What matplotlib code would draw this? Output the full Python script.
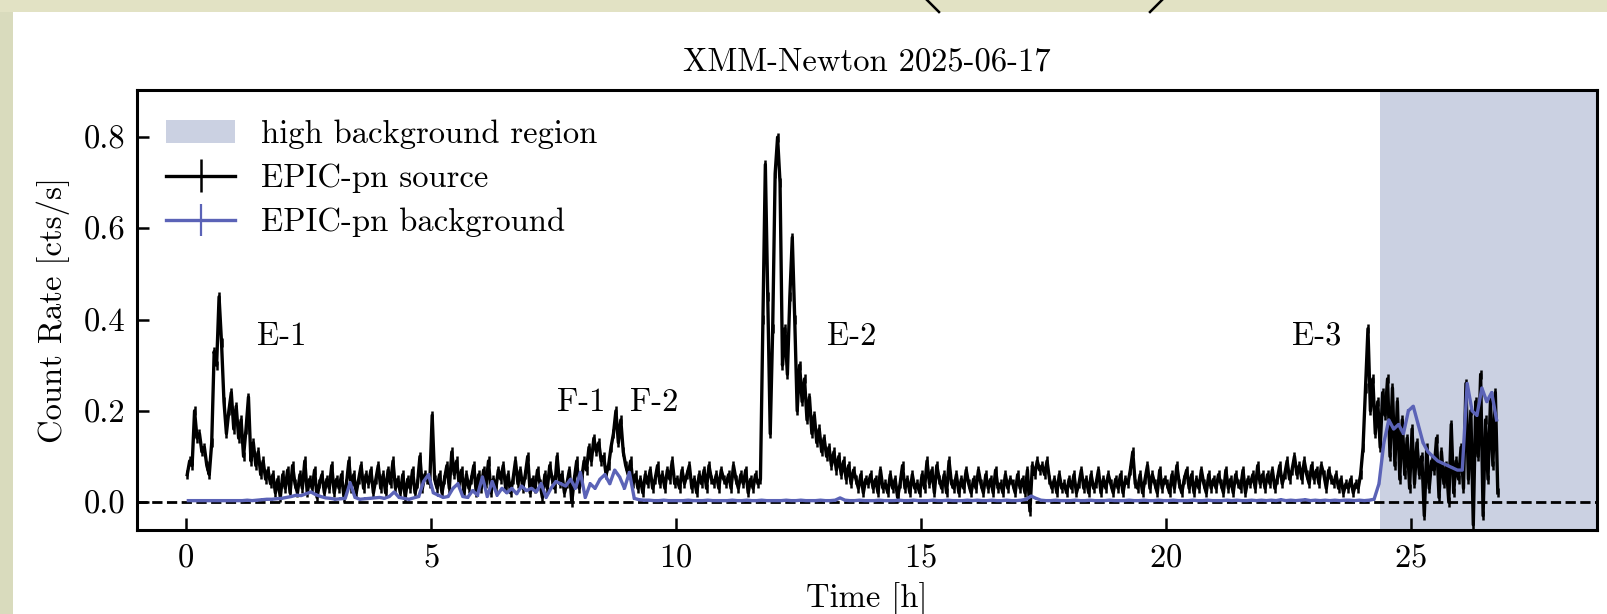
import numpy as np
import matplotlib
matplotlib.use("Agg")
import matplotlib.pyplot as plt
from matplotlib.lines import Line2D
from matplotlib.patches import Rectangle

plt.rcParams["font.family"] = "serif"
plt.rcParams["font.serif"] = ["cmr10"]
plt.rcParams["mathtext.fontset"] = "cm"
plt.rcParams["axes.unicode_minus"] = False
plt.rcParams["axes.formatter.use_mathtext"] = True

# ---- light curve data -------------------------------------------------------
BIN_SRC_H = 0.05   # source light-curve bin width [h]
BIN_BKG_H = 0.10   # background light-curve bin width [h]

# EPIC-pn source count rate [cts/s], one row per hour
src_rate = [
    0.06, 0.09, 0.08, 0.20, 0.14, 0.15, 0.11, 0.12, 0.08, 0.06, 0.13, 0.33, 0.30, 0.45, 0.35, 0.22, 0.15, 0.20, 0.24, 0.16,
    0.21, 0.14, 0.18, 0.10, 0.16, 0.23, 0.09, 0.13, 0.08, 0.11, 0.06, 0.09, 0.05, 0.07, 0.04, 0.06, 0.02, 0.05, 0.01, 0.06,
    0.03, 0.07, 0.02, 0.08, 0.04, 0.02, 0.06, 0.03, 0.09, 0.02, 0.05, 0.03, 0.07, 0.01, 0.04, 0.06, 0.02, 0.05, 0.03, 0.08,
    0.02, 0.05, 0.03, 0.06, 0.01, 0.04, 0.09, 0.03, 0.06, 0.02, 0.05, 0.08, 0.03, 0.06, 0.04, 0.07, 0.02, 0.05, 0.08, 0.03,
    0.06, 0.02, 0.07, 0.04, 0.09, 0.03, 0.05, 0.02, 0.06, 0.01, 0.05, 0.03, 0.07, 0.02, 0.04, 0.10, 0.03, 0.06, 0.05, 0.04,
    0.19, 0.05, 0.03, 0.06, 0.02, 0.05, 0.08, 0.03, 0.11, 0.06, 0.09, 0.04, 0.07, 0.02, 0.06, 0.03, 0.05, 0.08, 0.02, 0.06,
    0.03, 0.07, 0.04, 0.09, 0.02, 0.05, 0.03, 0.07, 0.05, 0.08, 0.03, 0.06, 0.02, 0.05, 0.09, 0.04, 0.07, 0.03, 0.06, 0.10,
    0.02, 0.05, 0.03, 0.07, 0.04, 0.01, 0.06, 0.03, 0.08, 0.05, 0.03, 0.10, 0.04, 0.06, 0.02, 0.04, 0.07, 0.00, 0.05, 0.09,
    0.03, 0.05, 0.09, 0.07, 0.12, 0.09, 0.14, 0.11, 0.13, 0.09, 0.10, 0.06, 0.08, 0.12, 0.15, 0.20, 0.13, 0.18, 0.11, 0.08,
    0.06, 0.09, 0.04, 0.06, 0.03, 0.05, 0.02, 0.06, 0.04, 0.07, 0.03, 0.05, 0.08, 0.04, 0.06, 0.03, 0.07, 0.05, 0.09, 0.04,
    0.05, 0.03, 0.07, 0.04, 0.06, 0.08, 0.03, 0.05, 0.02, 0.06, 0.04, 0.07, 0.03, 0.08, 0.05, 0.04, 0.06, 0.03, 0.07, 0.05,
    0.04, 0.06, 0.03, 0.08, 0.05, 0.03, 0.06, 0.04, 0.07, 0.02, 0.05, 0.03, 0.06, 0.04, 0.05, 0.40, 0.74, 0.45, 0.15, 0.38,
    0.72, 0.80, 0.70, 0.30, 0.38, 0.28, 0.45, 0.58, 0.40, 0.20, 0.30, 0.22, 0.27, 0.18, 0.23, 0.15, 0.19, 0.13, 0.16, 0.11,
    0.14, 0.10, 0.12, 0.08, 0.11, 0.07, 0.10, 0.06, 0.09, 0.05, 0.08, 0.04, 0.07, 0.05, 0.03, 0.06, 0.02, 0.05, 0.04, 0.06,
    0.03, 0.05, 0.02, 0.07, 0.03, 0.04, 0.02, 0.06, 0.03, 0.05, 0.01, 0.04, 0.08, 0.03, 0.05, 0.02, 0.06, 0.03, 0.04, 0.02,
    0.06, 0.03, 0.09, 0.04, 0.07, 0.02, 0.08, 0.05, 0.03, 0.06, 0.02, 0.09, 0.04, 0.03, 0.06, 0.02, 0.05, 0.03, 0.07, 0.04,
    0.02, 0.05, 0.03, 0.07, 0.04, 0.02, 0.06, 0.03, 0.05, 0.02, 0.07, 0.03, 0.04, 0.02, 0.06, 0.03, 0.05, 0.04, 0.02, 0.06,
    0.03, 0.05, 0.02, 0.07, -0.02, 0.08, 0.06, 0.09, 0.07, 0.08, 0.06, 0.09, 0.05, 0.03, 0.05, 0.02, 0.06, 0.03, 0.04, 0.02,
    0.05, 0.03, 0.06, 0.02, 0.04, 0.07, 0.03, 0.05, 0.02, 0.06, 0.03, 0.04, 0.07, 0.02, 0.05, 0.03, 0.06, 0.04, 0.02, 0.05,
    0.03, 0.06, 0.02, 0.05, 0.04, 0.07, 0.11, 0.04, 0.03, 0.06, 0.02, 0.05, 0.08, 0.03, 0.06, 0.04, 0.02, 0.07, 0.03, 0.05,
    0.04, 0.02, 0.06, 0.03, 0.08, 0.04, 0.02, 0.05, 0.07, 0.03, 0.06, 0.02, 0.05, 0.03, 0.07, 0.04, 0.02, 0.06, 0.03, 0.05,
    0.03, 0.06, 0.04, 0.02, 0.07, 0.03, 0.05, 0.02, 0.06, 0.04, 0.03, 0.07, 0.02, 0.05, 0.04, 0.06, 0.03, 0.08, 0.04, 0.06,
    0.03, 0.06, 0.04, 0.07, 0.03, 0.05, 0.08, 0.04, 0.06, 0.09, 0.05, 0.07, 0.10, 0.06, 0.08, 0.05, 0.09, 0.06, 0.04, 0.08,
    0.05, 0.07, 0.04, 0.08, 0.06, 0.03, 0.07, 0.05, 0.04, 0.06, 0.03, 0.05, 0.02, 0.04, 0.03, 0.05, 0.02, 0.04, 0.03, 0.06,
    0.12, 0.25, 0.38, 0.20, 0.27, 0.15, 0.22, 0.12, 0.24, 0.19, 0.27, 0.10, 0.25, 0.08, 0.22, 0.05, 0.18, 0.06, 0.14, 0.03,
    0.16, 0.04, 0.13, 0.06, 0.10, -0.03, 0.12, 0.03, 0.09, 0.07, 0.14, 0.01, 0.11, 0.04, 0.08, 0.00, 0.17, 0.02, 0.09, 0.05,
    0.12, 0.03, 0.26, 0.05, 0.20, -0.05, 0.22, 0.10, 0.28, -0.03, 0.18, 0.05, 0.22, 0.08, 0.24, 0.02,
]

# EPIC-pn background count rate [cts/s], one row per hour
bkg_rate = [
    0.003, 0.003, 0.003, 0.003, 0.003, 0.003, 0.003, 0.003, 0.003, 0.003,
    0.003, 0.003, 0.004, 0.003, 0.004, 0.005, 0.006, 0.006, 0.007, 0.008,
    0.010, 0.012, 0.015, 0.014, 0.018, 0.022, 0.016, 0.012, 0.009, 0.008,
    0.006, 0.007, 0.008, 0.042, 0.010, 0.006, 0.007, 0.008, 0.009, 0.010,
    0.008, 0.012, 0.022, 0.010, 0.008, 0.006, 0.009, 0.012, 0.045, 0.060,
    0.020, 0.015, 0.010, 0.012, 0.030, 0.040, 0.012, 0.010, 0.025, 0.015,
    0.055, 0.012, 0.045, 0.015, 0.030, 0.020, 0.030, 0.018, 0.035, 0.025,
    0.030, 0.022, 0.040, 0.010, 0.030, 0.045, 0.040, 0.035, 0.050, 0.030,
    0.065, 0.010, 0.040, 0.030, 0.050, 0.060, 0.040, 0.070, 0.055, 0.030,
    0.065, 0.008, 0.005, 0.004, 0.004, 0.003, 0.003, 0.004, 0.003, 0.003,
    0.003, 0.003, 0.004, 0.003, 0.003, 0.003, 0.004, 0.003, 0.003, 0.003,
    0.003, 0.004, 0.003, 0.003, 0.004, 0.003, 0.003, 0.004, 0.003, 0.003,
    0.003, 0.003, 0.004, 0.003, 0.003, 0.004, 0.003, 0.003, 0.003, 0.004,
    0.003, 0.003, 0.004, 0.009, 0.004, 0.003, 0.003, 0.004, 0.003, 0.003,
    0.003, 0.004, 0.003, 0.003, 0.003, 0.004, 0.003, 0.003, 0.004, 0.003,
    0.003, 0.003, 0.004, 0.003, 0.003, 0.004, 0.003, 0.003, 0.003, 0.004,
    0.003, 0.004, 0.003, 0.003, 0.004, 0.003, 0.003, 0.004, 0.003, 0.003,
    0.004, 0.006, 0.013, 0.008, 0.004, 0.003, 0.003, 0.004, 0.003, 0.003,
    0.003, 0.004, 0.003, 0.003, 0.004, 0.003, 0.003, 0.003, 0.004, 0.003,
    0.003, 0.003, 0.004, 0.003, 0.003, 0.004, 0.003, 0.003, 0.004, 0.003,
    0.003, 0.004, 0.003, 0.003, 0.003, 0.004, 0.003, 0.003, 0.004, 0.003,
    0.003, 0.003, 0.004, 0.003, 0.004, 0.003, 0.003, 0.004, 0.003, 0.004,
    0.003, 0.004, 0.003, 0.005, 0.003, 0.004, 0.003, 0.004, 0.005, 0.003,
    0.004, 0.003, 0.004, 0.003, 0.004, 0.003, 0.004, 0.004, 0.003, 0.004,
    0.003, 0.004, 0.006, 0.040, 0.130, 0.180, 0.160, 0.170, 0.150, 0.200,
    0.210, 0.170, 0.130, 0.110, 0.100, 0.090, 0.085, 0.080, 0.075, 0.070,
    0.070, 0.260, 0.200, 0.190, 0.250, 0.220, 0.240, 0.180,
]

src_err = 0.010   # typical 1-sigma uncertainty per source bin [cts/s]
bkg_err = 0.003   # typical 1-sigma uncertainty per background bin [cts/s]

high_bkg_start = 24.37   # start of the flaring-background interval [h]

event_labels = ["E-1", "F-1", "F-2", "E-2", "E-3"]
event_t = [1.44, 7.58, 9.06, 13.09, 22.58]
event_y = [0.345, 0.20, 0.20, 0.345, 0.345]

x_ticks = [0, 5, 10, 15, 20, 25]
y_ticks = [0.0, 0.2, 0.4, 0.6, 0.8]

# ---- figure ---------------------------------------------------------------------
BLACK = "black"
BLUE = "#5b63b7"
SHADE = "#cbd1e2"
FS = 23.5

t_src = (np.arange(len(src_rate)) + 0.5) * BIN_SRC_H
t_bkg = (np.arange(len(bkg_rate)) + 0.5) * BIN_BKG_H

fig = plt.figure(figsize=(16.08, 6.14), dpi=100)
fig.patch.set_facecolor("white")

# page margins around the white panel
fig.add_artist(Rectangle((0, 1 - 12 / 614), 1, 12 / 614, transform=fig.transFigure,
                         facecolor="#e2e2c4", edgecolor="none", zorder=0))
fig.add_artist(Rectangle((0, 0), 13 / 1608, 1 - 12 / 614, transform=fig.transFigure,
                         facecolor="#d9dbbd", edgecolor="none", zorder=0))
for xs in ([927, 939], [1162, 1150]):
    fig.add_artist(Line2D([xs[0] / 1608, xs[1] / 1608], [1.0, 1 - 12 / 614],
                          transform=fig.transFigure, color="black", lw=1.8))

ax = fig.add_axes([137 / 1608, 1 - 530 / 614, 1460 / 1608, 440 / 614])

xmin, xmax = -1.0, 28.8
span = ax.axvspan(high_bkg_start, xmax, color=SHADE, lw=0, zorder=0)
ax.axhline(0.0, color=BLACK, ls="--", lw=2.0, zorder=1)

src = ax.errorbar(t_src, src_rate, yerr=src_err, fmt="-", color=BLACK,
                  lw=2.4, elinewidth=1.8, capsize=0, zorder=2)
bkg = ax.errorbar(t_bkg, bkg_rate, yerr=bkg_err, fmt="-", color=BLUE,
                  lw=2.4, elinewidth=1.6, capsize=0, zorder=3)

for lab, tx, ty in zip(event_labels, event_t, event_y):
    ax.text(tx, ty, lab, fontsize=FS, ha="left", va="baseline")

ax.set_xlim(xmin, xmax)
ax.set_ylim(-0.0614, 0.9035)
ax.set_xticks(x_ticks)
ax.set_yticks(y_ticks)
ax.set_yticklabels([f"{v:.1f}" for v in y_ticks])
ax.tick_params(direction="in", length=8.5, width=1.8, labelsize=FS,
               top=False, right=False)
ax.tick_params(axis="x", pad=10)
ax.tick_params(axis="y", pad=8.5)
for sp in ax.spines.values():
    sp.set_linewidth(2.2)

ax.set_xlabel("Time [h]", fontsize=FS, labelpad=6.5)
ax.set_ylabel("Count Rate [cts/s]", fontsize=FS, labelpad=10)
ax.set_title("XMM-Newton 2025-06-17", fontsize=FS, pad=14)

ax.legend([span, src, bkg],
          ["high background region", "EPIC-pn source", "EPIC-pn background"],
          loc="upper left", frameon=False, fontsize=FS,
          handlelength=2.1, handletextpad=0.8, labelspacing=0.45,
          borderaxespad=0.5)

fig.savefig("out.png", dpi=100)
